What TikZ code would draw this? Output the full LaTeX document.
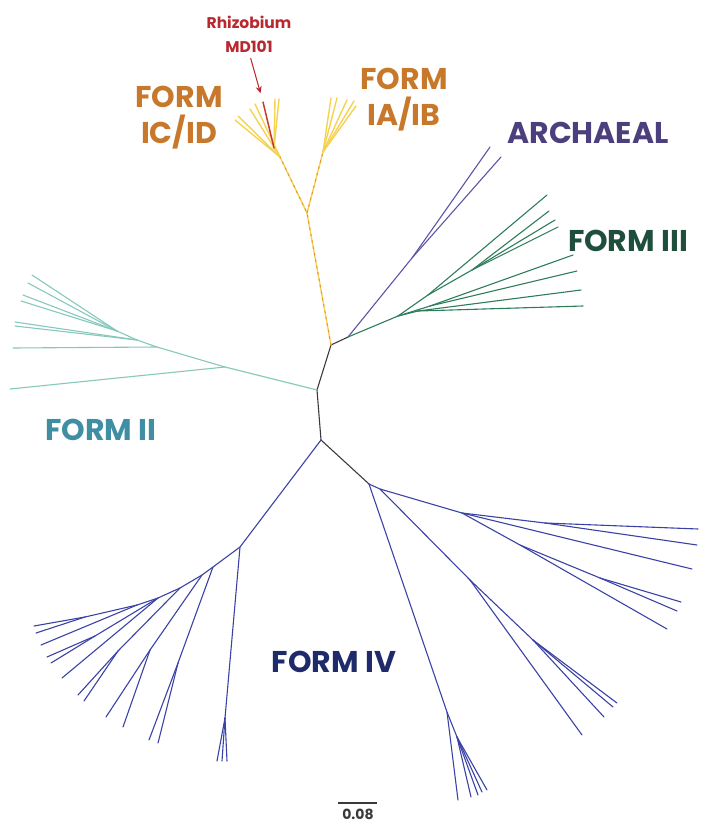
\documentclass[tikz,border=0pt]{standalone}
\usepackage{fontspec}
\setmainfont{Poppins}
\usetikzlibrary{arrows.meta}
\definecolor{yel}{HTML}{F5D252}
\definecolor{ora}{HTML}{E8902A}
\definecolor{arch}{HTML}{5B55A8}
\definecolor{fiii}{HTML}{2E7D5A}
\definecolor{fii}{HTML}{86C8BC}
\definecolor{fiv}{HTML}{3A42A6}
\definecolor{trunk}{HTML}{3A3A3A}
\definecolor{labI}{HTML}{C8782A}
\definecolor{labA}{HTML}{4B3F7D}
\definecolor{labIII}{HTML}{1F4F3C}
\definecolor{labII}{HTML}{3F8EA3}
\definecolor{labIV}{HTML}{1F2A6B}
\definecolor{rhz}{HTML}{B8282E}
\tikzset{
  br/.style={line width=1.1pt, line cap=round},
  trk/.style={br, draw=trunk},
  yb/.style={br, draw=yel, line width=1.4pt},
  yo/.style={draw=ora, line width=0.9pt, dash pattern=on 2.5pt off 4pt},
  ab/.style={br, draw=arch},
  gb/.style={br, draw=fiii},
  tb/.style={br, draw=fii},
  bb/.style={br, draw=fiv},
  clade/.style={font=\bfseries\fontsize{30}{36}\selectfont, align=center, inner sep=0pt},
}
\begin{document}
\begin{tikzpicture}[x=1pt,y=-1pt]
\useasboundingbox (0,0) rectangle (721,824);

% ---------- backbone ----------
\coordinate (A) at (331,345);
\coordinate (G) at (348,337);
\coordinate (B) at (317,390);
\coordinate (C) at (321,440);
\coordinate (D) at (369,484);
\draw[trk] (G) -- (A) -- (B) -- (C);
\draw[trk] (C) -- (D);

% ---------- Form I (yellow) ----------
\coordinate (Y) at (307,213);
\coordinate (Y1) at (280,157);
\coordinate (Y1a) at (274,148);
\coordinate (Y2) at (323,152);
\foreach \p in {(235,120),(238,116),(250,109),(255,104)} \draw[yb] (Y1) -- \p;
\foreach \p in {(275,99),(279,99)} \draw[yb] (Y1a) -- \p;
\draw[yb] (Y1) -- (Y1a);
\foreach \p in {(331,98),(337,98),(347,100),(354,101),(356,106)} \draw[yb] (Y2) -- \p;
\draw[yb] (A) -- (Y) -- (Y1);
\draw[yb] (Y) -- (Y2);
\draw[yo] (A) -- (Y) -- (Y1);
\draw[yo] (Y) -- (Y2);
\coordinate (rzleaf) at (263,102);
\draw[br, draw=rhz!80!ora, line width=1.5pt] (Y1a) -- (rzleaf);

% ---------- Archaeal ----------
\coordinate (Ar) at (412,258);
\draw[ab] (G) -- (Ar) -- (490,147);
\draw[ab] (Ar) -- (501,157);

% ---------- Form III ----------
\coordinate (T) at (398,316);
\coordinate (Ta) at (428,295);
\coordinate (Td) at (472,270);
\coordinate (Tb) at (430,306);
\coordinate (Tc) at (418,311);
\draw[gb] (G) -- (T);
\draw[gb] (T) -- (Ta) -- (547,195);
\draw[gb] (Ta) -- (Td);
\foreach \p in {(549,211),(555,220),(558,227)} \draw[gb] (Td) -- \p;
\draw[gb] (T) -- (Tb);
\foreach \p in {(573,255),(577,271)} \draw[gb] (Tb) -- \p;
\draw[gb] (T) -- (Tc);
\foreach \p in {(581,290),(583,306)} \draw[gb] (Tc) -- \p;

% ---------- Form II ----------
\coordinate (S1) at (225,367);
\coordinate (S2) at (157,347);
\coordinate (S3) at (137,340);
\coordinate (S4) at (117,331);
\draw[tb] (B) -- (S1) -- (10,389);
\draw[tb] (S1) -- (S2) -- (13,348);
\draw[tb] (S2) -- (S3);
\foreach \p in {(15,322),(15,326)} \draw[tb] (S3) -- \p;
\draw[tb] (S3) -- (S4);
\foreach \p in {(32,275),(28,283),(23,295),(21,301)} \draw[tb] (S4) -- \p;

% ---------- Form IV, left ----------
\coordinate (L1) at (240,547);
\coordinate (L1b) at (225,718);
\coordinate (L2) at (213,567);
\coordinate (L2a) at (178,663);
\coordinate (L3) at (202,575);
\coordinate (L3a) at (150,650);
\coordinate (L4) at (180,588);
\coordinate (L4a) at (118,651);
\coordinate (L5) at (158,598);
\coordinate (L5a) at (95,636);
\coordinate (L6) at (137,605);
\coordinate (L6a) at (85,617);
\draw[bb] (C) -- (L1) -- (L1b);
\foreach \p in {(217,761),(222,761),(227,761)} \draw[bb] (L1b) -- \p;
\draw[bb] (L1) -- (L2) -- (L3) -- (L4) -- (L5) -- (L6);
\draw[bb] (L2) -- (L2a);
\foreach \p in {(158,743),(149,740)} \draw[bb] (L2a) -- \p;
\draw[bb] (L3) -- (L3a);
\foreach \p in {(123,727),(106,717)} \draw[bb] (L3a) -- \p;
\draw[bb] (L4) -- (L4a);
\foreach \p in {(84,701),(78,695)} \draw[bb] (L4a) -- \p;
\draw[bb] (L5) -- (62,678);
\draw[bb] (L5) -- (L5a);
\foreach \p in {(51,663),(47,657)} \draw[bb] (L5a) -- \p;
\draw[bb] (L6) -- (41,645);
\draw[bb] (L6) -- (L6a);
\foreach \p in {(36,633),(34,626)} \draw[bb] (L6a) -- \p;

% ---------- Form IV, right ----------
\coordinate (R1) at (447,712);
\coordinate (R1a) at (457,737);
\coordinate (R2) at (380,489);
\coordinate (R3) at (462,513);
\coordinate (R3a) at (545,523);
\coordinate (R3b) at (520,545);
\coordinate (R3c) at (600,578);
\coordinate (R4) at (470,580);
\coordinate (R4a) at (533,640);
\draw[bb] (D) -- (R1) -- (458,800);
\draw[bb] (R1) -- (R1a);
\foreach \p in {(471,797),(478,795),(482,792),(487,790)} \draw[bb] (R1a) -- \p;
\draw[bb] (D) -- (R2) -- (R3) -- (R3a);
\foreach \p in {(698,529),(697,545)} \draw[bb] (R3a) -- \p;
\draw[bb] (R3) -- (692,569);
\draw[bb] (R3) -- (R3b) -- (R3c);
\foreach \p in {(681,602),(677,611)} \draw[bb] (R3c) -- \p;
\draw[bb] (R3b) -- (667,629);
\draw[bb] (R2) -- (R4) -- (582,735);
\draw[bb] (R4) -- (R4a);
\foreach \p in {(617,703),(613,707),(604,717)} \draw[bb] (R4a) -- \p;

% ---------- labels ----------
\node[clade, text=labI] (lcd) at (179,118) {FORM\\IC/ID};
\node[clade, text=labI] (lab) at (404,100) {FORM\\IA/IB};
\node[clade, text=labA] (larch) at (588,133) {ARCHAEAL};
\node[clade, text=labIII] (liii) at (628,241) {FORM III};
\node[clade, text=labII] (lii) at (101,430) {FORM II};
\node[clade, text=labIV] (liv) at (334,662) {FORM IV};

\node[font=\bfseries\fontsize{15.5}{24}\selectfont, text=rhz, align=center, inner sep=0pt] (rz) at (249,34) {Rhizobium\\MD101};
\draw[-{Stealth[length=7pt,width=6pt]}, draw=rhz, fill=rhz, line width=1pt, shorten <=6pt, shorten >=9pt] (rz.south) -- (rzleaf);

% ---------- scale bar ----------
\coordinate (sb1) at (338,803);
\coordinate (sb2) at (377,803);
\draw[line width=1.1pt, draw=trunk] (sb1) -- (sb2);
\node[font=\bfseries\fontsize{14}{15}\selectfont, text=trunk, inner sep=0pt, anchor=base] (sbl) at (358,819) {0.08};
\end{tikzpicture}
\end{document}
